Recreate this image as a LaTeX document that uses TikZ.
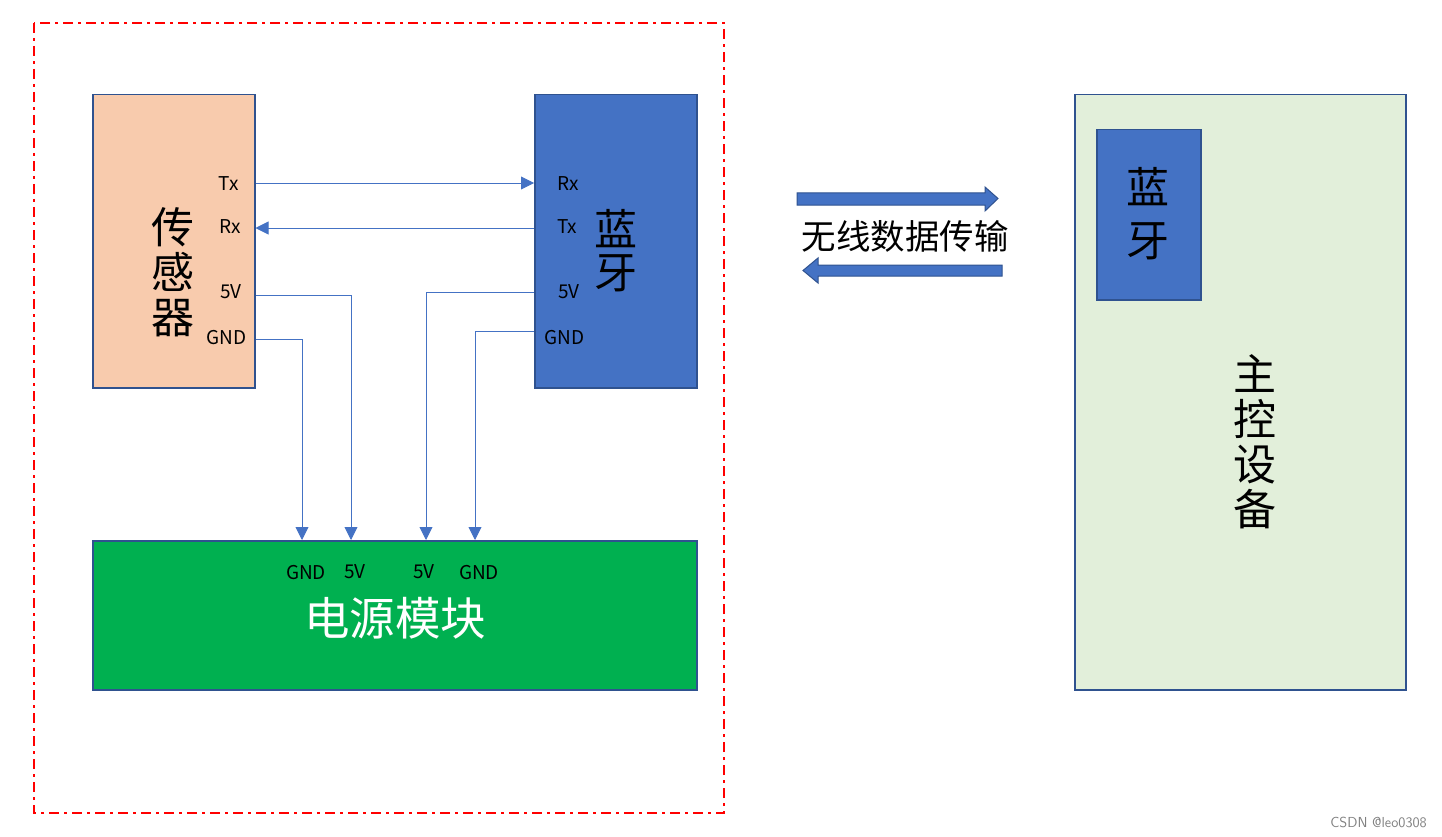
\documentclass[tikz,border=0pt]{standalone}
\usepackage{fontspec}
\newfontfamily\cjk{Noto Sans CJK SC}
\usetikzlibrary{arrows.meta}
\definecolor{bord}{HTML}{2F528F}
\definecolor{sensorfill}{HTML}{F8CBAD}
\definecolor{btfill}{HTML}{4472C4}
\definecolor{pwrfill}{HTML}{00B050}
\definecolor{mainfill}{HTML}{E2EFDA}
\definecolor{wire}{HTML}{4472C4}
\definecolor{redline}{HTML}{FF0000}
\tikzset{
  block/.style={draw=bord, line width=1.5pt},
  pin/.style={font=\cjk\fontsize{19}{22}\selectfont, inner sep=0pt},
  vtext/.style={font=\cjk\fontsize{43}{45}\selectfont, align=center, inner sep=0pt},
  wireln/.style={draw=wire, line width=0.9pt},
  wirearr/.style={wireln, -{Triangle[length=13pt,width=13pt]}},
  barrow/.style={fill=btfill, draw=bord, line width=1pt},
}
\begin{document}
\begin{tikzpicture}[x=1pt,y=-1pt]
\useasboundingbox (0,0) rectangle (1442,837);
% outer red dash-dot frame
\draw[redline, line width=1.5pt, dash pattern=on 10pt off 5pt on 3pt off 5pt] (34,23) rectangle (724,813);
% blocks
\node[block, fill=sensorfill, minimum width=162pt, minimum height=293pt, anchor=north west, inner sep=0pt] (sensor) at (92,94) {};
\node[block, fill=btfill, minimum width=162pt, minimum height=293pt, anchor=north west, inner sep=0pt] (bt) at (534,94) {};
\node[block, fill=pwrfill, minimum width=604pt, minimum height=149pt, anchor=north west, inner sep=0pt] (pwr) at (92,540) {};
\node[block, fill=mainfill, minimum width=331pt, minimum height=595pt, anchor=north west, inner sep=0pt] (main) at (1074,94) {};
\node[block, fill=btfill, minimum width=104pt, minimum height=170pt, anchor=north west, inner sep=0pt] (bt2) at (1096,129) {};
% big texts
\node[vtext] (sensorT) at (173,272) {传\\感\\器};
\node[vtext, font=\cjk\fontsize{43}{43}\selectfont] (btT) at (616,251) {蓝\\牙};
\node[vtext, font=\cjk\fontsize{43}{53}\selectfont] (bt2T) at (1148,214) {蓝\\牙};
\node[vtext] (mainT) at (1255,442) {主\\控\\设\\备};
\node[font=\cjk\fontsize{45.5}{48}\selectfont, text=white, inner sep=0pt] (pwrT) at (395,618) {电源模块};
\node[font=\cjk\fontsize{34.5}{38}\selectfont, inner sep=0pt] (wlT) at (905,236) {无线数据传输};
% sensor pins
\node[pin, anchor=east] (sTx) at (239,184) {Tx};
\node[pin, anchor=east] (sRx) at (241,227) {Rx};
\node[pin, anchor=east] (s5V) at (242,292) {5V};
\node[pin, anchor=east] (sGND) at (247,338) {GND};
% bt pins
\node[pin, anchor=west] (bRx) at (557,184) {Rx};
\node[pin, anchor=west] (bTx) at (557,227) {Tx};
\node[pin, anchor=west] (b5V) at (558,292) {5V};
\node[pin, anchor=west] (bGND) at (544,338) {GND};
% power pins
\node[pin] (pGND1) at (306,573) {GND};
\node[pin] (p5V1) at (355,572) {5V};
\node[pin] (p5V2) at (424,572) {5V};
\node[pin] (pGND2) at (479,573) {GND};
% wires
\coordinate (c1) at (302,339);
\coordinate (c2) at (351,295);
\coordinate (c3) at (426,292);
\coordinate (c4) at (475,331);
\draw[wirearr] (sensor.east |- 0,183) -- (bt.west |- 0,183);
\draw[wirearr] (bt.west |- 0,228) -- (sensor.east |- 0,228);
\draw[wirearr] (sensor.east |- c1) -- (c1) -- (c1 |- pwr.north);
\draw[wirearr] (sensor.east |- c2) -- (c2) -- (c2 |- pwr.north);
\draw[wirearr] (bt.west |- c3) -- (c3) -- (c3 |- pwr.north);
\draw[wirearr] (bt.west |- c4) -- (c4) -- (c4 |- pwr.north);
% block arrows
\draw[barrow] (797,193) -- (985,193) -- (985,187) -- (998,198.5) -- (985,211) -- (985,205) -- (797,205) -- cycle;
\draw[barrow] (1002,265) -- (818,265) -- (818,258) -- (803,270.5) -- (818,283) -- (818,276) -- (1002,276) -- cycle;
% watermark
\node[font=\sffamily\fontsize{14.5}{16}\selectfont, text=gray, anchor=east, inner sep=0pt] (wm) at (1427,822) {CSDN @leo0308};
\end{tikzpicture}
\end{document}
